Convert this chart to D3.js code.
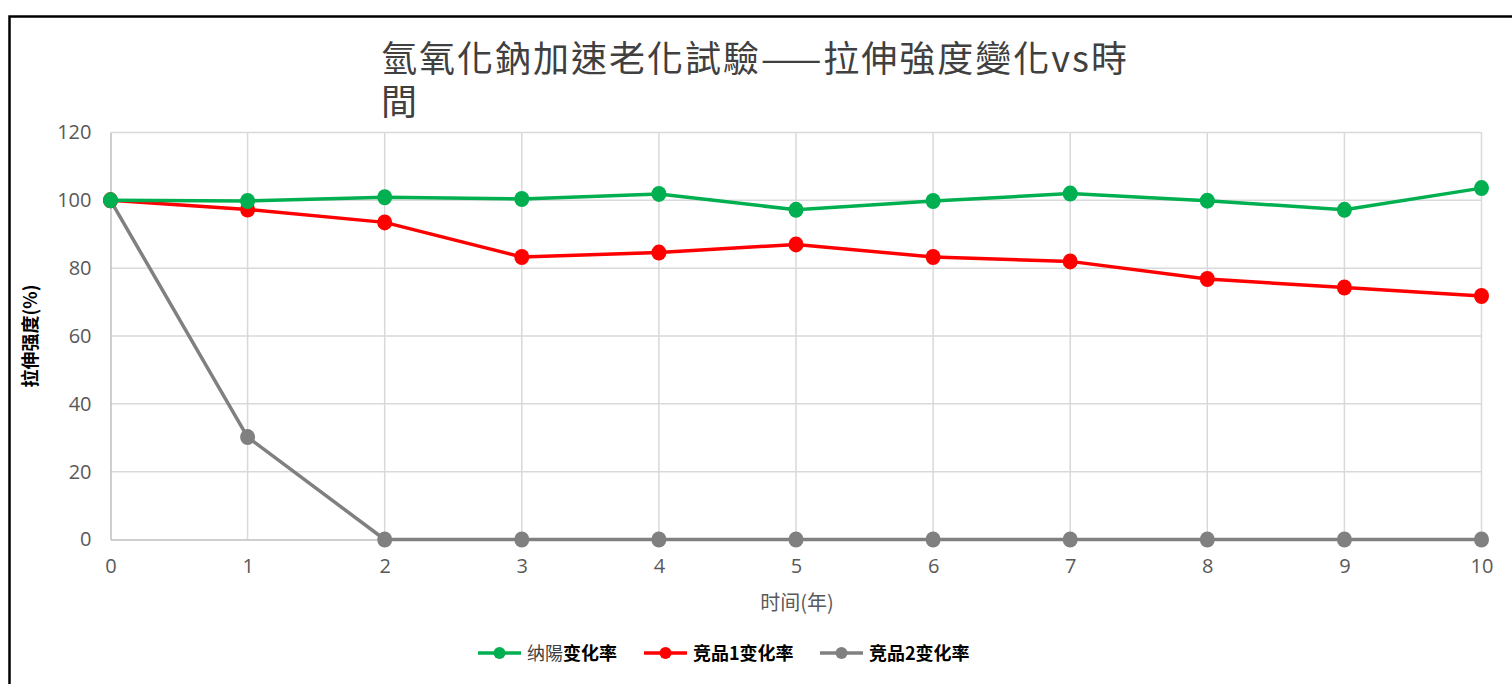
<!DOCTYPE html>
<html>
<head>
<meta charset="UTF-8">
<title>拉伸強度變化</title>
<script src="https://cdnjs.cloudflare.com/ajax/libs/d3/7.8.5/d3.min.js"></script>
<style>
body { margin:0; background:white; }
svg { display:block; }
</style>
</head>
<body>
<script type="text/javascript">
// 年份
var years = [0,1,2,3,4,5,6,7,8,9,10]
// 纳陽 / 竞品1 / 竞品2 (%)
var nayang = [100,99.8,100.9,100.4,101.9,97.2,99.8,102,99.9,97.2,103.6]
var comp1 = [100,97.3,93.5,83.3,84.6,87,83.3,82,76.8,74.3,71.8]
var comp2 = [100,30.2,0,0,0,0,0,0,0,0,0]
var yTicks = [0,20,40,60,80,100,120]

var series = [
  {name:"竞品2", values:comp2, color:"#808080"},
  {name:"竞品1", values:comp1, color:"#ff0000"},
  {name:"纳陽", values:nayang, color:"#00b050"}
]

var W = 1512, H = 684
var svg = d3.select("body").append("svg")
  .attr("width", W).attr("height", H)
  .style("background", "white")

var font = "'Noto Sans CJK TC','Noto Sans CJK SC',sans-serif"

// chart frame (cropped on right/bottom)
svg.append("rect")
  .attr("x", 9.5).attr("y", 16.5)
  .attr("width", W + 20).attr("height", H + 20)
  .attr("fill", "none").attr("stroke", "#000").attr("stroke-width", 2.5)

var x = d3.scaleLinear().domain([0,10]).range([110.5,1481.5])
var y = d3.scaleLinear().domain([0,120]).range([539.5,132.5])

// gridlines
svg.append("g").selectAll("line").data(yTicks.filter(function(d){return d>0})).enter()
  .append("line")
  .attr("x1", x(0)).attr("x2", x(10))
  .attr("y1", function(d){return y(d)}).attr("y2", function(d){return y(d)})
  .attr("stroke", "#d9d9d9").attr("stroke-width", 1.5)
svg.append("g").selectAll("line").data(years.filter(function(d){return d>0})).enter()
  .append("line")
  .attr("x1", function(d){return x(d)}).attr("x2", function(d){return x(d)})
  .attr("y1", y(0)).attr("y2", y(120))
  .attr("stroke", "#d9d9d9").attr("stroke-width", 1.5)

// axes
var xAxis = svg.append("g").attr("transform", "translate(0," + y(0) + ")")
  .call(d3.axisBottom(x).tickValues(years).tickSize(0).tickPadding(19).tickFormat(d3.format("d")))
var yAxis = svg.append("g").attr("transform", "translate(" + x(0) + ",0)")
  .call(d3.axisLeft(y).tickValues(yTicks).tickSize(0).tickPadding(19))
;[xAxis, yAxis].forEach(function(a) {
  a.select(".domain").attr("stroke", "#bfbfbf").attr("stroke-width", 1.5)
  a.selectAll("text").attr("fill", "#595959").style("font-size", "20px")
    .style("font-family", "'Open Sans','Noto Sans',sans-serif")
})

// lines + markers
var line = d3.line()
  .x(function(d,i){return x(years[i])})
  .y(function(d){return y(d)})

series.forEach(function(s) {
  svg.append("path").datum(s.values)
    .attr("d", line)
    .attr("fill", "none").attr("stroke", s.color)
    .attr("stroke-width", 3.5).attr("stroke-linejoin", "round")
  svg.append("g").selectAll("ellipse").data(s.values).enter()
    .append("ellipse")
    .attr("cx", function(d,i){return x(years[i])})
    .attr("cy", function(d){return y(d)})
    .attr("rx", 7.5).attr("ry", 8)
    .attr("fill", s.color)
})

// title
var title = svg.append("text")
  .attr("x", 381).attr("y", 72)
  .attr("fill", "#404040")
  .style("font-family", font).style("font-size", "36px")
  .style("letter-spacing", "2px")
title.append("tspan").text("氫氧化鈉加速老化試驗——拉伸強度變化vs時")
title.append("tspan").attr("x", 381).attr("dy", 43).text("間")

// axis titles
svg.append("text")
  .attr("transform", "translate(37,336) rotate(-90)")
  .attr("text-anchor", "middle")
  .attr("fill", "#000").style("font-weight", "bold")
  .style("font-family", "'Noto Sans CJK SC',sans-serif").style("font-size", "18px")
  .text("拉伸强度(%)")
svg.append("text")
  .attr("x", 797).attr("y", 610)
  .attr("text-anchor", "middle")
  .attr("fill", "#595959")
  .style("font-family", "'Noto Sans CJK SC',sans-serif").style("font-size", "20px")
  .text("时间(年)")

// legend
var legend = [
  {pre:"纳陽", post:"变化率", color:"#00b050", x:478},
  {pre:"", post:"竞品1变化率", color:"#ff0000", x:644},
  {pre:"", post:"竞品2变化率", color:"#808080", x:820}
]
var lg = svg.append("g").selectAll("g").data(legend).enter().append("g")
  .attr("transform", function(d){return "translate(" + d.x + ",653)"})
lg.append("line").attr("x1", 0).attr("x2", 43)
  .attr("stroke", function(d){return d.color}).attr("stroke-width", 3.5)
lg.append("circle").attr("cx", 21.5).attr("r", 6)
  .attr("fill", function(d){return d.color})
var lt = lg.append("text").attr("x", 49).attr("y", 6.5)
  .style("font-family", "'Noto Sans CJK SC',sans-serif").style("font-size", "18px")
lt.append("tspan").attr("fill", "#404040").text(function(d){return d.pre})
lt.append("tspan").attr("fill", "#000").style("font-weight", "bold").text(function(d){return d.post})
</script>
</body>
</html>
